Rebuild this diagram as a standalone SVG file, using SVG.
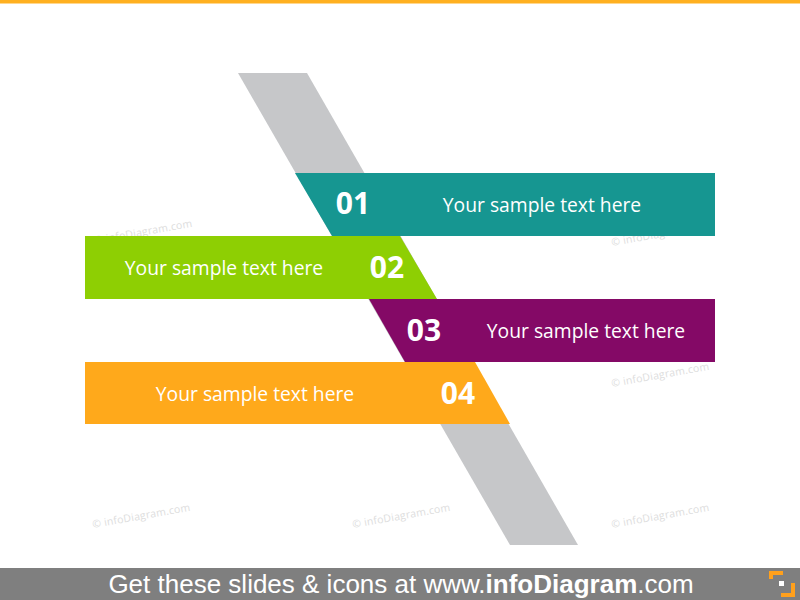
<svg xmlns="http://www.w3.org/2000/svg" width="800" height="600" viewBox="0 0 800 600">
<style>
.wm{font-family:"Open Sans","DejaVu Sans",sans-serif;font-size:10.5px;fill:#DDDDDD;letter-spacing:0.2px}
.num{font-family:"Open Sans","Noto Sans",sans-serif;font-size:30px;font-weight:bold;fill:#FFFFFF;text-anchor:middle}
.lbl{font-family:"Open Sans","Noto Sans",sans-serif;font-size:19.3px;fill:#FFFFFF;text-anchor:middle}
.foot{font-family:"Liberation Sans","DejaVu Sans",sans-serif;font-size:26px;fill:#FFFFFF;text-anchor:middle}
</style>
<rect x="0" y="0" width="800" height="600" fill="#FFFFFF"/>
<rect x="0" y="0" width="800" height="3.5" fill="#FFB020"/>
<g id="watermarks">
<text class="wm" transform="translate(95,244) rotate(-10)">© infoDiagram.com</text>
<text class="wm" transform="translate(612,246) rotate(-10)">© infoDiagram.com</text>
<text class="wm" transform="translate(612,387) rotate(-10)">© infoDiagram.com</text>
<text class="wm" transform="translate(93,528) rotate(-10)">© infoDiagram.com</text>
<text class="wm" transform="translate(353,528) rotate(-10)">© infoDiagram.com</text>
<text class="wm" transform="translate(612,528) rotate(-10)">© infoDiagram.com</text>
</g>
<g id="band">
<polygon points="238,73 307,73 578,545 510,545" fill="#C6C7C9"/>
</g>
<g id="connectors"></g>
<g id="node1">
<polygon points="295,173 715,173 715,236 332,236" fill="#169691"/>
<text class="num" x="353" y="214">01</text>
<text class="lbl" x="542" y="212">Your sample text here</text>
</g>
<g id="node2">
<polygon points="85,236 400,236 437,299 85,299" fill="#8ECF03"/>
<text class="num" x="387" y="278">02</text>
<text class="lbl" x="224" y="275">Your sample text here</text>
</g>
<g id="node3">
<polygon points="369,299 715,299 715,362 405,362" fill="#840966"/>
<text class="num" x="424" y="341">03</text>
<text class="lbl" x="586" y="338">Your sample text here</text>
</g>
<g id="node4">
<polygon points="85,362 475,362 510,424 85,424" fill="#FFA91B"/>
<text class="num" x="458" y="404">04</text>
<text class="lbl" x="255" y="401">Your sample text here</text>
</g>
<g id="footer">
<rect x="0" y="568" width="800" height="32" fill="#7F7F7F"/>
<text class="foot" x="401" y="593">Get these slides &amp; icons at www.<tspan font-weight="bold">infoDiagram</tspan>.com</text>
<path d="M769,571 H783 V575 H773 V579 H769 Z" fill="#FFA01C"/>
<path d="M795,583 V597 H781 V593 H791 V583 Z" fill="#FFA01C"/>
<rect x="779" y="581" width="5" height="5" fill="#FFFFFF"/>
</g>
</svg>
